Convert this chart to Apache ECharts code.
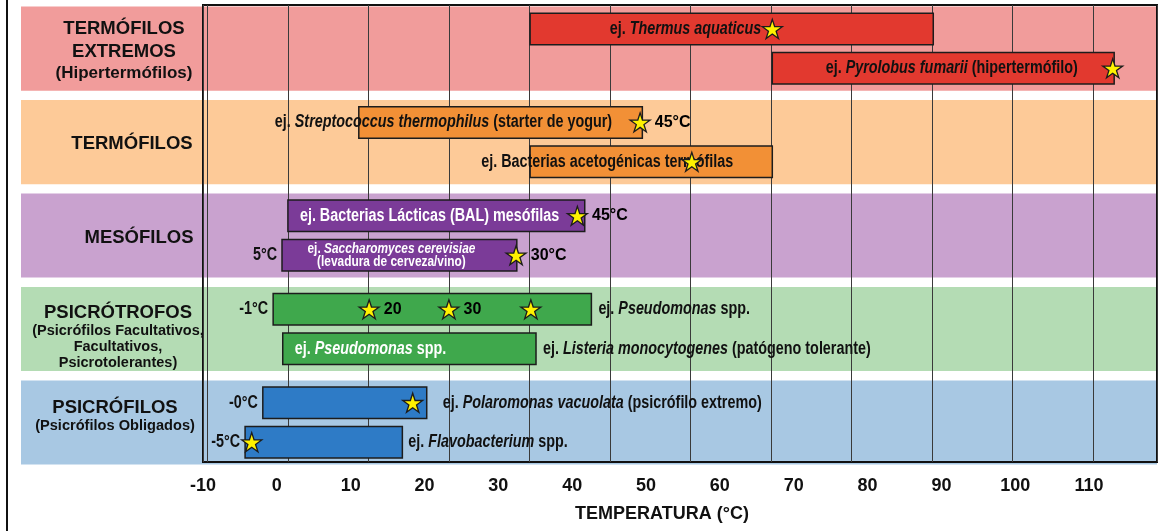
<!DOCTYPE html>
<html>
<head>
<meta charset="utf-8">
<script src="https://cdn.jsdelivr.net/npm/echarts@6.0.0/dist/echarts.min.js"></script>
<style>html,body{margin:0;padding:0;background:#fff;}#c{width:1172px;height:531px;}</style>
</head>
<body>
<div id="c"></div>
<script>
// ---------------- DATA ----------------
const groupTitle = ['TERMÓFILOS\nEXTREMOS', 'TERMÓFILOS', 'MESÓFILOS', 'PSICRÓTROFOS', 'PSICRÓFILOS'];
const groupSubtitle = ['(Hipertermófilos)', '', '', '(Psicrófilos Facultativos,\nFacultativos,\nPsicrotolerantes)', '(Psicrófilos Obligados)'];

const barGroup = [0, 0, 1, 1, 2, 2, 3, 3, 4, 4];
const barRow   = [0, 1, 0, 1, 0, 1, 0, 1, 0, 1];
const barStart = [34.3, 67.1, 11.1, 34.3, 1.5, 0.7, -0.5, 0.8, -1.9, -4.3];
const barEnd   = [88.9, 113.4, 49.5, 67.1, 41.7, 32.5, 42.6, 35.1, 20.3, 17.0];
const barText = [
  'ej. *Thermus aquaticus*',
  'ej. *Pyrolobus fumarii* (hipertermófilo)',
  'ej. *Streptococcus thermophilus* (starter de yogur)',
  'ej. Bacterias acetogénicas termófilas',
  'ej. Bacterias Lácticas (BAL) mesófilas',
  'ej. *Saccharomyces cerevisiae*\n(levadura de cerveza/vino)',
  'ej. *Pseudomonas* spp.',
  'ej. *Listeria monocytogenes* (patógeno tolerante)',
  'ej. *Polaromonas vacuolata* (psicrófilo extremo)',
  'ej. *Flavobacterium* spp.'
];
const barInnerText = ['', '', '', '', '', '', '', 'ej. *Pseudomonas* spp.', '', ''];
const barStartLabel = ['', '', '', '', '', '5°C', '-1°C', '', '-0°C', '-5°C'];

const starBar   = [0, 1, 2, 3, 4, 5, 6, 6, 6, 8, 9];
const starTemp  = [67.1, 113.2, 49.2, 56.2, 40.7, 32.4, 12.5, 23.3, 34.4, 18.4, -3.4];
const starLabel = ['', '', '45°C', '', '45°C', '30°C', '20', '30', '', '', ''];

const tickMin = -10, tickStep = 10, axisMax = 119.2;
const axisTitle = 'TEMPERATURA (°C)';

// ---------------- STYLE / LAYOUT ----------------
const FONT = "'Liberation Sans',Arial,sans-serif";
const DARK = '#111111';
const NARROW = 0.82;
const bandColor = ['#F19C9B', '#FDCA98', '#C9A2CF', '#B4DCB4', '#A8C8E3'];
const barColor  = ['#E2392F', '#F29036', '#7B3B98', '#3FA84C', '#2E7BC6'];
const LABEL_AREA = 182;
const BAND_H = 0.9, SUB_OFF = 0.211, BAR_H = 0.337;

const labelLayout = [
  {ref: 'star', dx: -11, align: 'right', fill: DARK},
  {ref: 'star', dx: -35, align: 'right', fill: DARK},
  {ref: 'star', dx: -28, align: 'right', fill: DARK},
  {ref: 'end', dx: -39, align: 'right', fill: DARK},
  {ref: 'start', dx: 12, align: 'left', fill: '#fff'},
  {ref: 'mid', dx: -8, align: 'center', fill: '#fff', small: true},
  {ref: 'end', dx: 7, align: 'left', fill: DARK},
  {ref: 'end', dx: 7, align: 'left', fill: DARK},
  {ref: 'end', dx: 16, align: 'left', fill: DARK},
  {ref: 'end', dx: 6, align: 'left', fill: DARK}
];
// per-row category label nudges (gap line height = 2 x downward shift)
const rowGap = [0, 3, 8, 24, 0];
const rowPadL = [12, 28, 42, 0, 0];
const rowPadR = [0, 0, 0, 0, 6];
const rowTitleLH = [23, 23, 23, 20, 20];
const rowSubSize = [17, 15, 15, 14.5, 14.6];
const rowSubLH = [21, 16, 16, 16, 16];

function toRich(str, base, ital) {
  return str.split('\n').map(line =>
    line.split('*').map((seg, k) => seg ? '{' + (k % 2 ? ital : base) + '|' + seg + '}' : '').join('')
  ).join('\n');
}
const rowY = barGroup.map((g, i) => g + 0.5 + (barRow[i] ? SUB_OFF : -SUB_OFF));
const firstStarOfBar = barGroup.map((g, i) => { const k = starBar.indexOf(i); return k >= 0 ? starTemp[k] : null; });

const textRich = {
  n: {fontFamily: FONT, fontSize: 17.5, fontWeight: 'bold'},
  i: {fontFamily: FONT, fontSize: 17.5, fontWeight: 'bold', fontStyle: 'italic'},
  sn: {fontFamily: FONT, fontSize: 14.5, fontWeight: 'bold', lineHeight: 12.5},
  si: {fontFamily: FONT, fontSize: 14.5, fontWeight: 'bold', fontStyle: 'italic', lineHeight: 12.5}
};

const catRich = {};
groupTitle.forEach((t, i) => {
  const base = {fontFamily: FONT, fontWeight: 'bold', color: '#111', align: 'center'};
  catRich['g' + i] = {fontSize: 1, lineHeight: rowGap[i]};
  catRich['t' + i] = Object.assign({}, base, {fontSize: 18.5, lineHeight: rowTitleLH[i], padding: [0, rowPadR[i], 0, rowPadL[i]]});
  catRich['s' + i] = Object.assign({}, base, {fontSize: rowSubSize[i], lineHeight: rowSubLH[i], padding: [0, rowPadR[i], 0, rowPadL[i]]});
});
function catFormatter(value, index) {
  const lines = [];
  if (rowGap[index]) lines.push('{g' + index + '|\u00a0}');
  groupTitle[index].split('\n').forEach(l => lines.push('{t' + index + '|' + l + '}'));
  if (groupSubtitle[index]) groupSubtitle[index].split('\n').forEach(l => lines.push('{s' + index + '|' + l + '}'));
  return lines.join('\n');
}

function renderBand(params, api) {
  const cs = params.coordSys;
  const y = api.value(1);
  const c = api.coord([tickMin, y]);
  const h = api.size([0, BAND_H])[1];
  return {
    type: 'rect',
    shape: {x: cs.x - LABEL_AREA, y: c[1] - h / 2, width: cs.width + LABEL_AREA, height: h},
    style: {fill: bandColor[params.dataIndex]}
  };
}

function narrowText(x, y, style) {
  return {type: 'text', x: x, y: y, scaleX: NARROW, scaleY: 1, style: style};
}

function renderBar(params, api) {
  const i = params.dataIndex;
  const s = api.value(0), e = api.value(1), y = api.value(2);
  const p0 = api.coord([s, y]), p1 = api.coord([e, y]);
  const h = api.size([0, BAR_H])[1];
  const children = [{
    type: 'rect',
    shape: {x: p0[0], y: p0[1] - h / 2, width: p1[0] - p0[0], height: h},
    style: {fill: barColor[barGroup[i]], stroke: '#1c1c1c', lineWidth: 1.5}
  }];
  const L = labelLayout[i];
  let ax;
  if (L.ref === 'star') ax = api.coord([firstStarOfBar[i], y])[0];
  else if (L.ref === 'end') ax = p1[0];
  else if (L.ref === 'start') ax = p0[0];
  else ax = (p0[0] + p1[0]) / 2;
  children.push(narrowText(ax + L.dx, p0[1], {
    text: toRich(barText[i], L.small ? 'sn' : 'n', L.small ? 'si' : 'i'), rich: textRich,
    fill: L.fill, align: L.align, verticalAlign: 'middle'
  }));
  if (barInnerText[i]) {
    children.push(narrowText(p0[0] + 12, p0[1], {
      text: toRich(barInnerText[i], 'n', 'i'), rich: textRich, fill: '#fff', align: 'left', verticalAlign: 'middle'
    }));
  }
  if (barStartLabel[i]) {
    children.push(narrowText(p0[0] - 5, p0[1], {
      text: barStartLabel[i], fill: DARK, align: 'right', verticalAlign: 'middle',
      font: 'bold 17.5px ' + FONT
    }));
  }
  return {type: 'group', children};
}

const chart = echarts.init(document.getElementById('c'), null, {renderer: 'canvas'});
chart.setOption({
  backgroundColor: '#ffffff',
  animation: false,
  graphic: [{type: 'rect', left: 6, top: 0, shape: {width: 2, height: 531}, style: {fill: '#111'}}],
  grid: {left: 203, right: 15, top: 5, bottom: 69, show: true, borderColor: '#111', borderWidth: 2, backgroundColor: 'transparent', z: 2},
  xAxis: [{
    type: 'value', min: tickMin, max: axisMax, interval: tickStep,
    axisLine: {show: false}, axisTick: {show: false}, splitLine: {show: false},
    axisLabel: {showMaxLabel: false, margin: 15, color: '#111', fontFamily: FONT, fontSize: 18, fontWeight: 'bold'},
    name: axisTitle, nameLocation: 'middle', nameGap: 43,
    nameTextStyle: {color: '#111', fontFamily: FONT, fontSize: 18, fontWeight: 'bold', padding: [0, 36, 0, 0]}
  }, {
    type: 'value', min: -1.056, max: 10.795, minInterval: 1, maxInterval: 1, splitNumber: 12,
    position: 'bottom', z: 2,
    axisLine: {show: false}, axisTick: {show: false}, axisLabel: {show: false},
    splitLine: {show: true, lineStyle: {color: '#3a3a3a', width: 1}}
  }],
  yAxis: [{
    type: 'category', inverse: true, data: groupTitle.map((t, i) => i), z: 5,
    axisLine: {show: false}, axisTick: {show: false}, splitLine: {show: false},
    axisLabel: {margin: 85, align: 'center', formatter: catFormatter, rich: catRich}
  }, {
    type: 'value', inverse: true, min: 0.033, max: 4.923, show: false
  }],
  series: [{
    type: 'custom', name: 'bands', xAxisIndex: 0, yAxisIndex: 1, z: 1, clip: false, silent: true,
    renderItem: renderBand,
    encode: {x: 0, y: 1},
    data: groupTitle.map((t, i) => [tickMin, i + 0.5])
  }, {
    type: 'custom', name: 'bars', xAxisIndex: 0, yAxisIndex: 1, z: 3, clip: false,
    renderItem: renderBar,
    encode: {x: [0, 1], y: 2},
    data: barStart.map((s, i) => [s, barEnd[i], rowY[i]])
  }, {
    type: 'scatter', name: 'stars', xAxisIndex: 0, yAxisIndex: 1, z: 4,
    symbol: 'path://M50,0 L61.2,34.5 L97.6,34.5 L68.2,55.9 L79.4,90.5 L50,69.1 L20.6,90.5 L31.8,55.9 L2.4,34.5 L38.8,34.5 Z',
    symbolSize: [20, 19],
    itemStyle: {color: '#FFF200', borderColor: '#1c1c1c', borderWidth: 1.3, opacity: 1},
    label: {show: true, position: 'right', distance: 4, color: '#000', opacity: 1, textBorderWidth: 0,
            fontFamily: FONT, fontSize: 16, fontWeight: 'bold',
            formatter: p => starLabel[p.dataIndex]},
    emphasis: {disabled: true},
    data: starTemp.map((t, k) => [t, rowY[starBar[k]]])
  }]
});
</script>
</body>
</html>
